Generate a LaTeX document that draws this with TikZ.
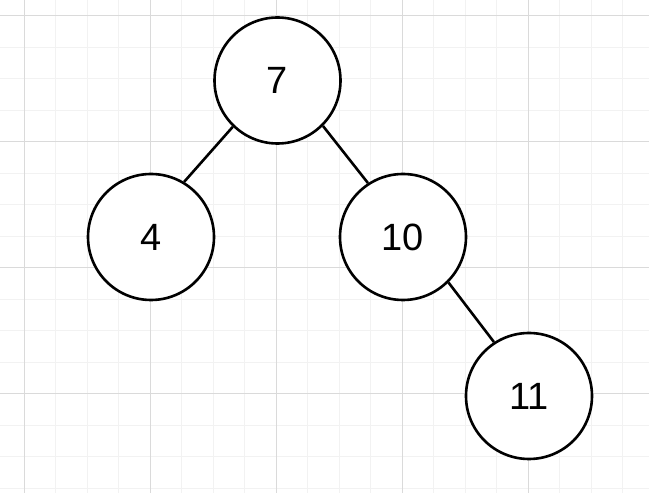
\documentclass[tikz,border=0pt]{standalone}
\usepackage{fontspec}
\setmainfont{Liberation Sans}
\usepackage{xcolor}
\definecolor{gridminor}{RGB}{242,242,242}
\definecolor{gridmajor}{RGB}{218,218,218}
\tikzset{
  treenode/.style={circle,draw=black,line width=1.3pt,fill=white,minimum size=63pt,inner sep=0pt,font=\fontsize{19}{23}\selectfont},
  treeedge/.style={line width=1.3pt}
}
\begin{document}
\begin{tikzpicture}[x=0.5pt,y=0.5pt]
\useasboundingbox[fill=white] (0,0) rectangle (649,493);
% grid, minor then major
\foreach \k in {0,...,19}{\draw[gridminor,line width=0.5pt] ({24.3+31.5*\k},0)--({24.3+31.5*\k},493);}
\foreach \k in {0,...,15}{\draw[gridminor,line width=0.5pt] (0,{477-31.5*\k})--(649,{477-31.5*\k});}
\foreach \k in {0,...,4}{\draw[gridmajor,line width=0.5pt] ({24.3+126*\k},0)--({24.3+126*\k},493);}
\foreach \k in {0,...,3}{\draw[gridmajor,line width=0.5pt] (0,{477-126*\k})--(649,{477-126*\k});}
% tree
\node[treenode] (n7) at (277.5,412.5) {7};
\node[treenode] (n4) at (151,256) {4};
\node[treenode] (n10) at (403,256) {10};
\node[treenode] (n11) at (529,97) {11};
\draw[treeedge] (n7.226)--(n4.59);
\draw[treeedge] (n7.315)--(n10.123);
\draw[treeedge] (n10.315)--(n11.123);
\end{tikzpicture}
\end{document}
